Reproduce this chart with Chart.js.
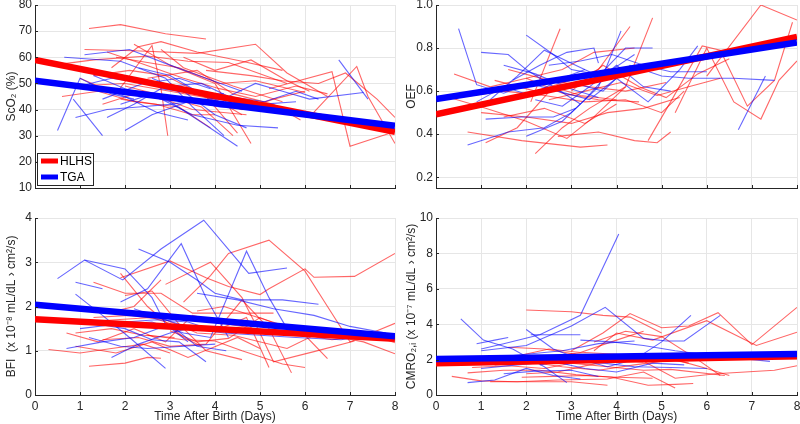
<!DOCTYPE html>
<html><head><meta charset="utf-8">
<script src="https://cdn.jsdelivr.net/npm/chart.js@4/dist/chart.umd.min.js"></script>
<style>
html,body{margin:0;padding:0;background:#fff;width:800px;height:424px;overflow:hidden}
.p{position:absolute;width:400px;height:212px}
canvas{display:block}
</style></head><body>
<div class="p" style="left:0;top:0"><canvas id="c1" width="400" height="212"></canvas></div>
<div class="p" style="left:400px;top:0"><canvas id="c2" width="400" height="212"></canvas></div>
<div class="p" style="left:0;top:212px"><canvas id="c3" width="400" height="212"></canvas></div>
<div class="p" style="left:400px;top:212px"><canvas id="c4" width="400" height="212"></canvas></div>
<script>
// ---------- DATA ----------
const dayTicks = [0,1,2,3,4,5,6,7,8];
const fitX = [0, 8];
const groups = ['HLHS', 'TGA'];

// ScO2 (%)
const scoTicks = [10,20,30,40,50,60,70,80];
const scoFitHLHS = [59.0, 31.5];
const scoFitTGA = [51.0, 33.8];
const scoHLHS = [
 [[1.2,71],[1.9,72.5],[2.9,69],[3.8,67]],
 [[1.1,63],[2.2,62.5],[3.6,61.5],[4.9,65],[5.6,54],[6.5,45]],
 [[1.7,56],[2.3,64],[2.8,66],[3.6,62],[4.6,58.5],[5.5,55]],
 [[0.4,57],[1.3,59],[2.5,60.5],[3.4,58.5],[4.3,58],[5.6,50]],
 [[2.2,65],[3.0,57],[4.0,50],[4.8,27]],
 [[1.0,52],[1.8,46],[2.6,64.5],[2.8,48],[2.95,30]],
 [[0.9,49],[2.0,50],[3.0,47],[4.0,44],[4.6,38]],
 [[1.5,42],[2.4,47],[3.5,40],[4.7,38]],
 [[1.8,60],[3.2,56],[4.1,50],[4.9,51],[6.0,46.5]],
 [[3.8,55],[4.8,53],[5.5,51],[6.3,50],[6.9,54],[7.6,44],[8,37]],
 [[5.2,48],[6.6,54.5],[7.0,26],[7.9,31]],
 [[6.2,39],[7.15,56.5],[7.4,45],[8,27]],
 [[2.5,52],[3.6,55],[4.4,46],[5.3,42],[5.9,36]],
 [[0.6,45],[1.4,47],[2.2,43],[3.2,41],[3.9,33]],
 [[1.3,53],[2.1,55],[2.9,53],[3.8,45],[4.5,31]],
 [[2.8,63],[3.3,56],[4.4,49],[5.5,43]],
 [[1.9,44],[2.7,42],[3.5,38],[4.0,38]],
 [[3.0,50],[3.9,44],[4.6,40],[5.3,44],[6.0,47]],
 [[1.6,62],[2.3,58],[3.3,52],[4.1,48],[4.9,45],[5.8,49],[6.5,46]],
 [[2.0,49],[2.9,45],[3.7,41],[4.4,30]],
 [[3.3,60],[4.0,55],[4.8,59],[5.6,51],[6.1,47]]
];
const scoTGA = [
 [[0.5,32],[1.0,52],[1.7,46],[2.2,44]],
 [[0.85,44],[1.5,30]],
 [[0.65,60],[1.9,58.5],[2.9,52],[3.5,41],[4.2,30]],
 [[1.1,61],[2.1,63],[3.0,57],[3.8,52],[4.6,47]],
 [[1.0,49],[1.7,52],[2.5,50],[3.3,48],[4.0,44],[4.9,43]],
 [[1.3,53],[2.0,48],[2.8,44],[3.5,38],[4.5,34],[5.4,33]],
 [[1.6,37],[2.2,42],[2.8,48],[3.6,46]],
 [[2.0,32],[2.6,38],[3.4,43],[4.3,45],[4.9,50],[5.5,47],[6.1,44],[7.3,46.5]],
 [[0.9,37],[1.6,40],[2.3,41],[3.0,42],[3.8,44]],
 [[2.3,56],[3.0,53],[3.7,46],[4.2,46]],
 [[1.5,44],[2.4,50],[3.2,52],[3.9,48]],
 [[2.6,52],[3.3,47],[4.0,38],[4.7,33]],
 [[2.2,47],[3.0,43],[3.8,34],[4.5,26]],
 [[3.6,46],[4.4,44],[5.0,42],[5.8,43]],
 [[6.75,59],[7.4,44]],
 [[1.2,50],[2.0,45],[2.7,39],[3.4,36]],
 [[1.9,42],[2.6,46],[3.3,44],[4.1,41],[4.8,40]],
 [[3.0,49],[3.7,50],[4.3,45],[5.1,43],[5.8,47],[6.3,44]]
];

// OEF
const oefTicks = [0.2,0.4,0.6,0.8,1];
const oefFitHLHS = [0.492, 0.852];
const oefFitTGA = [0.563, 0.826];
const oefHLHS = [
 [[0.7,0.41],[1.9,0.37],[3.2,0.34],[3.8,0.35]],
 [[2.2,0.31],[2.8,0.43],[3.4,0.52],[4.2,0.62],[4.8,0.94]],
 [[2.7,0.39],[3.6,0.41],[4.4,0.37],[4.9,0.36],[5.2,0.41]],
 [[1.1,0.36],[1.8,0.43],[2.6,0.62],[3.2,0.58],[4.0,0.56]],
 [[0.4,0.68],[1.2,0.62],[2.0,0.66],[2.8,0.7],[3.5,0.78],[4.4,0.8]],
 [[2.1,0.55],[2.75,0.89]],
 [[0.5,0.57],[1.5,0.6],[2.4,0.58],[3.3,0.55],[4.2,0.56],[5.0,0.5],[5.5,0.6]],
 [[1.0,0.5],[2.0,0.48],[3.0,0.45],[3.8,0.5],[4.6,0.52],[5.4,0.57]],
 [[1.3,0.65],[2.2,0.6],[3.0,0.65],[3.6,0.7],[4.3,0.9]],
 [[0.3,0.57],[1.1,0.52],[2.0,0.46],[2.9,0.38],[3.5,0.48],[4.2,0.62]],
 [[2.5,0.56],[3.3,0.6],[4.1,0.64],[4.9,0.58],[5.6,0.62],[6.3,0.66]],
 [[1.6,0.7],[2.5,0.65],[3.4,0.62],[4.2,0.6],[5.1,0.64]],
 [[3.0,0.6],[3.7,0.72],[4.5,0.62],[5.1,0.57],[5.8,0.68],[6.5,0.75]],
 [[1.5,0.48],[2.4,0.52],[3.3,0.45],[4.0,0.54]],
 [[2.0,0.66],[2.8,0.59],[3.6,0.56],[4.5,0.55]],
 [[5.3,0.5],[6.0,0.8],[6.6,0.55],[7.2,0.47],[7.6,0.65],[8.0,0.74]],
 [[6.0,0.67],[7.2,1.0],[8.0,0.93]],
 [[4.7,0.37],[5.2,0.55],[5.9,0.81],[6.3,0.79],[6.9,0.53],[7.5,0.65],[7.9,0.92]]
];
const oefTGA = [
 [[0.5,0.89],[0.9,0.63],[1.5,0.59],[2.0,0.63]],
 [[0.7,0.35],[1.6,0.41],[2.4,0.43],[3.0,0.5],[3.6,0.62],[4.1,0.88]],
 [[1.0,0.78],[1.6,0.77],[2.0,0.7],[2.6,0.62],[3.2,0.54]],
 [[2.0,0.86],[2.6,0.77],[3.0,0.7],[3.5,0.68]],
 [[1.2,0.56],[1.8,0.67],[2.4,0.79],[3.0,0.73],[3.6,0.67],[4.2,0.8],[4.8,0.8]],
 [[1.3,0.6],[2.0,0.64],[2.7,0.6],[3.4,0.56],[4.0,0.66],[4.7,0.55],[5.4,0.7],[5.8,0.81]],
 [[2.0,0.39],[2.8,0.46],[3.3,0.56],[3.9,0.7],[4.4,0.77]],
 [[1.1,0.47],[1.9,0.48],[2.6,0.48],[3.1,0.52]],
 [[2.5,0.72],[3.2,0.74],[3.9,0.77],[4.6,0.72],[5.2,0.69],[6.0,0.69]],
 [[3.0,0.64],[3.7,0.6],[4.3,0.72],[5.0,0.67],[5.6,0.66],[6.6,0.66],[7.5,0.65]],
 [[6.7,0.42],[7.3,0.67]],
 [[1.5,0.72],[2.2,0.68],[3.0,0.61],[3.6,0.57]],
 [[2.2,0.56],[2.8,0.53],[3.4,0.62],[4.0,0.72],[4.6,0.62],[5.2,0.6]],
 [[0.9,0.55],[1.5,0.62],[2.1,0.58],[2.8,0.66],[3.3,0.7]],
 [[1.7,0.65],[2.3,0.72],[2.9,0.78],[3.5,0.8],[3.6,0.73]]
];

// BFI (x 10^-8)
const bfiTicks = [0,1,2,3,4];
const bfiFitHLHS = [1.71, 1.27];
const bfiFitTGA = [2.04, 1.33];
const bfiHLHS = [
 [[0.3,1.03],[1.0,0.95],[1.7,1.05],[2.4,1.15],[3.0,0.95]],
 [[1.2,0.65],[2.0,0.72],[2.5,0.85],[2.8,0.83]],
 [[1.9,2.65],[3.0,3.03],[3.8,2.65],[4.3,2.45],[5.0,2.27],[5.2,2.4],[6.0,2.85],[6.2,2.66],[7.1,2.68],[8.0,3.2]],
 [[3.3,2.1],[3.9,2.7],[4.3,3.2],[5.2,3.5],[6.0,2.8],[6.5,2.0],[7.0,1.2],[8.0,1.62]],
 [[2.9,2.5],[3.9,3.0],[4.6,2.2],[5.0,1.4],[5.3,0.75],[6.2,0.98],[7.1,1.22]],
 [[1.3,2.55],[2.0,2.3],[2.8,2.3],[3.5,1.85],[4.3,1.85],[5.3,1.85]],
 [[1.9,2.75],[2.5,2.0],[3.3,1.3],[3.7,1.1]],
 [[0.7,1.4],[1.4,1.2],[2.2,1.5],[2.9,1.2],[3.5,1.8],[4.3,1.6],[4.9,1.5]],
 [[1.0,1.65],[1.8,1.7],[2.6,1.75],[3.2,1.55],[4.0,1.45],[4.7,1.75],[5.2,0.62]],
 [[1.5,1.25],[2.3,1.3],[3.0,1.1],[3.8,1.15],[4.6,2.15],[5.2,1.5],[5.7,0.5]],
 [[2.5,1.35],[3.3,1.25],[4.0,1.22],[4.6,1.0],[5.5,0.7],[6.0,0.62]],
 [[1.6,1.85],[2.2,2.0],[2.8,2.6]],
 [[0.9,1.1],[1.8,0.95],[2.6,1.2],[3.4,0.85],[3.9,1.05],[4.5,1.3],[5.0,1.05]],
 [[2.0,2.25],[2.6,2.35],[3.2,1.6],[3.8,1.0],[4.6,0.8]],
 [[3.6,1.9],[4.2,2.0],[4.8,1.8],[5.6,1.55],[6.3,1.3],[6.6,1.25],[7.5,1.35],[8.0,1.18]],
 [[3.0,1.45],[3.6,1.2],[4.3,1.28],[5.0,1.75],[6.0,1.35],[6.5,0.82]],
 [[1.3,1.75],[2.1,1.8],[2.9,1.7],[3.6,1.4],[4.4,1.35],[5.6,1.05],[6.3,1.4],[7.3,1.2],[8.0,0.93]],
 [[0.9,1.4],[1.7,1.5],[2.4,1.35],[3.1,1.3]]
];
const bfiTGA = [
 [[0.5,2.63],[1.1,3.05],[1.95,2.6],[2.8,3.3],[3.75,3.95],[4.75,2.75],[5.6,2.87]],
 [[1.1,3.05],[2.0,2.85],[2.6,2.2],[2.9,1.6],[3.4,1.2]],
 [[2.3,3.3],[3.0,3.0],[3.6,2.6],[4.0,2.3],[4.6,2.15],[5.5,2.15],[6.3,2.05]],
 [[1.9,2.1],[2.5,2.4],[3.25,3.42],[3.8,2.2],[4.3,1.3]],
 [[0.9,2.55],[1.5,2.4]],
 [[0.9,2.28],[1.5,1.8],[2.1,1.3],[2.9,0.6]],
 [[0.7,1.05],[1.5,1.2],[2.2,1.3],[3.0,1.6],[3.6,1.1],[4.25,1.0]],
 [[1.0,1.5],[1.8,1.6],[2.6,1.65],[3.3,1.4],[3.9,1.3],[4.7,3.25],[5.2,2.2],[5.6,1.5]],
 [[1.7,0.85],[2.3,1.15],[3.0,1.4],[3.6,1.55]],
 [[2.2,1.95],[2.9,1.7],[3.5,1.5],[4.2,1.4],[5.0,1.35],[5.8,1.3],[6.8,1.25],[7.5,1.35]],
 [[3.6,2.3],[4.5,2.15],[5.3,1.95],[6.2,1.8],[7.0,1.55],[7.8,1.4]],
 [[1.4,1.6],[2.0,1.5],[2.6,1.25],[3.2,1.2],[3.8,0.75]],
 [[1.2,1.3],[1.9,1.1],[2.5,1.05],[3.3,1.1],[4.0,1.15]],
 [[2.0,1.65],[2.7,1.7],[3.4,1.65],[4.0,1.45]]
];

// CMRO2,i (x 10^-7)
const cmroTicks = [0,2,4,6,8,10];
const cmroFitHLHS = [1.79, 2.19];
const cmroFitTGA = [2.04, 2.32];
const cmroHLHS = [
 [[2.0,4.8],[3.0,4.7],[3.7,4.5],[4.3,4.4],[5.0,3.5]],
 [[3.0,2.5],[3.7,3.5],[4.3,4.6],[5.0,3.8],[5.6,3.9],[6.25,4.65],[7.0,2.85],[8.0,4.95]],
 [[3.5,2.5],[4.0,3.5],[4.8,3.1],[6.0,4.2],[7.1,2.8],[8.0,3.55]],
 [[0.35,1.05],[1.0,0.8],[1.8,0.75],[2.7,0.85],[3.8,0.9],[4.6,1.3],[5.3,0.4]],
 [[1.2,0.75],[2.0,0.75],[3.0,0.75],[3.8,0.55]],
 [[2.5,2.2],[3.3,2.4],[4.0,2.3],[4.6,1.9],[5.3,0.95],[6.2,1.2],[7.5,1.4],[8.0,1.65]],
 [[0.7,1.25],[1.5,1.4],[2.3,1.4],[3.1,1.15],[3.9,1.0],[4.7,0.55],[5.3,0.6],[5.7,0.65]],
 [[1.0,2.0],[1.8,2.2],[2.5,2.6],[3.2,2.4],[4.0,3.1],[4.6,3.6]],
 [[1.3,1.7],[2.1,1.85],[2.8,1.6],[3.6,1.4],[4.4,1.7],[5.3,2.0],[6.0,1.5],[6.5,1.1]],
 [[1.6,2.7],[2.4,2.6],[3.1,2.3],[3.8,2.05],[4.6,1.85]],
 [[2.0,1.2],[2.7,1.3],[3.4,1.7],[4.1,2.0],[4.8,2.2],[5.6,1.8]],
 [[0.8,1.55],[1.6,1.65],[2.4,1.5],[3.0,1.8],[3.8,1.6],[4.6,1.4],[5.2,1.45],[6.4,1.1]],
 [[3.5,3.0],[4.2,3.6],[5.0,3.3],[5.8,2.0],[6.3,1.1]],
 [[1.9,1.0],[2.6,1.05],[3.3,1.1],[4.0,1.0],[4.8,0.95]]
];
const cmroTGA = [
 [[0.55,4.3],[1.05,3.1],[1.7,2.6],[2.4,1.6],[2.9,0.7]],
 [[0.9,2.9],[1.3,3.1],[1.6,3.25]],
 [[1.0,2.6],[1.5,2.9],[2.3,3.4],[3.2,4.5],[4.05,9.1]],
 [[1.0,2.5],[2.0,2.8],[3.0,3.9],[3.75,4.95],[4.6,3.2],[5.1,3.05],[5.5,3.05],[6.3,4.5]],
 [[2.0,3.7],[2.6,2.6],[3.2,2.0],[3.8,1.6],[4.4,2.0],[5.0,3.0],[5.65,4.5]],
 [[2.1,3.4],[2.7,3.4],[3.2,3.4]],
 [[0.7,0.7],[1.3,0.85],[2.0,1.5],[2.6,1.1],[3.2,0.9]],
 [[1.0,1.5],[1.8,1.7],[2.6,1.9],[3.3,1.5],[4.0,1.3],[4.8,1.8],[5.5,1.7]],
 [[3.2,3.1],[3.9,3.0],[4.6,2.8],[5.3,2.5],[6.2,2.2],[7.4,1.9]],
 [[1.5,1.2],[2.2,1.35],[3.0,1.4],[3.6,1.05]],
 [[2.3,1.7],[3.0,2.05],[3.7,1.8],[4.4,1.6],[5.2,1.55],[6.0,1.5]],
 [[1.2,2.1],[2.0,2.3],[2.8,2.5],[3.6,2.9],[4.4,3.05]]
];

// ---------- CHART BUILDING ----------
const RED = 'rgb(255,0,0)', BLUE = 'rgb(0,0,255)';
const THIN_RED = 'rgba(255,0,0,0.6)', THIN_BLUE = 'rgba(0,0,255,0.6)';
const AX = '#262626', GRID = '#e6e6e6';
const FONT = {family:'"Liberation Sans", Arial, Helvetica, sans-serif', size:12};
Chart.defaults.font.family = FONT.family;
Chart.defaults.color = AX;

function pts(arr){ return arr.map(p => ({x:p[0], y:p[1]})); }
function fitPts(ys){ return fitX.map((x,i) => ({x:x, y:ys[i]})); }

function buildDatasets(hlhs, tga, fitH, fitT){
  const ds = [];
  ds.push({label:groups[1], data:fitPts(fitT), borderColor:BLUE, borderWidth:6.5});
  ds.push({label:groups[0], data:fitPts(fitH), borderColor:RED, borderWidth:6.5});
  tga.forEach(s => ds.push({label:'', data:pts(s), borderColor:THIN_BLUE, borderWidth:1.1}));
  hlhs.forEach(s => ds.push({label:'', data:pts(s), borderColor:THIN_RED, borderWidth:1.1}));
  ds.forEach(d => { d.showLine = true; d.pointRadius = 0; d.pointHoverRadius = 0; d.tension = 0; d.fill = false; d.borderCapStyle = 'butt'; });
  return ds;
}

// inward tick marks (MATLAB style) drawn along the axes
const inTicks = {
  id:'inTicks',
  afterDraw(chart){
    const ctx = chart.ctx, a = chart.chartArea, sx = chart.scales.x, sy = chart.scales.y;
    ctx.save();
    ctx.strokeStyle = AX; ctx.lineWidth = 1;
    ctx.beginPath();
    sx.ticks.forEach(t => { const x = Math.round(sx.getPixelForValue(t.value)) + 0.5; ctx.moveTo(x, a.bottom); ctx.lineTo(x, a.bottom - 3); });
    sy.ticks.forEach(t => { const y = Math.round(sy.getPixelForValue(t.value)) + 0.5; ctx.moveTo(a.left, y); ctx.lineTo(a.left + 3, y); });
    ctx.stroke();
    ctx.restore();
  }
};

const legendPlugin = {
  id:'boxLegend',
  afterDraw(chart, args, opts){
    if(!opts || !opts.show) return;
    const ctx = chart.ctx;
    const x = 37, y = 153, w = 56, h = 32;
    ctx.save();
    ctx.fillStyle = '#fff';
    ctx.fillRect(x, y, w, h);
    ctx.strokeStyle = AX; ctx.lineWidth = 1;
    ctx.strokeRect(x+0.5, y+0.5, w, h);
    const items = [[groups[0], RED, 161], [groups[1], BLUE, 177]];
    ctx.font = '12px ' + FONT.family;
    ctx.textBaseline = 'middle';
    items.forEach(it => {
      ctx.strokeStyle = it[1]; ctx.lineWidth = 5; ctx.lineCap = 'butt';
      ctx.beginPath(); ctx.moveTo(41, it[2]); ctx.lineTo(58, it[2]); ctx.stroke();
      ctx.fillStyle = '#000';
      ctx.fillText(it[0], 60, it[2] + 1);
    });
    ctx.restore();
  }
};

function makeChart(id, opt){
  const bottomRow = opt.bottom;
  return new Chart(document.getElementById(id), {
    type:'scatter',
    data:{datasets: buildDatasets(opt.hlhs, opt.tga, opt.fitH, opt.fitT)},
    plugins:[inTicks, legendPlugin],
    options:{
      responsive:false, animation:false, devicePixelRatio:1,
      events:[],
      layout:{padding:{left:0, right:opt.padRight, top:opt.padTop, bottom:0}},
      plugins:{legend:{display:false}, tooltip:{enabled:false}, boxLegend:{show:!!opt.legend}},
      scales:{
        x:{
          type:'linear', min:0, max:8,
          afterBuildTicks: s => { s.ticks = dayTicks.map(v => ({value:v})); },
          ticks:{display:bottomRow, color:AX, font:FONT, padding:4, maxRotation:0, autoSkip:false},
          grid:{color:GRID, drawTicks:false, lineWidth:1},
          border:{color:AX, width:1},
          title:{display:bottomRow, text:'Time After Birth (Days)', color:AX, font:FONT, padding:{top:0, bottom:0}},
          afterFit: s => { s.height = opt.xH; s.paddingLeft = 0; s.paddingRight = 0; }
        },
        y:{
          type:'linear', min:opt.yMin, max:opt.yMax,
          afterBuildTicks: s => { s.ticks = opt.yTicks.map(v => ({value:v})); },
          ticks:{color:AX, font:FONT, padding:3},
          grid:{color:GRID, drawTicks:false, lineWidth:1},
          border:{color:AX, width:1},
          title:{display:true, text:opt.yTitle, color:AX, font:FONT, padding:{top:4, bottom:2}},
          afterFit: s => { s.width = opt.yW; s.paddingTop = 0; s.paddingBottom = 0; }
        }
      }
    }
  });
}

makeChart('c1', {hlhs:scoHLHS, tga:scoTGA, fitH:scoFitHLHS, fitT:scoFitTGA, yMin:10, yMax:80, yTicks:scoTicks,
  yTitle:'ScO\u2082 (%)', bottom:false, xH:24, yW:35, padRight:5, padTop:5, legend:true});
makeChart('c2', {hlhs:oefHLHS, tga:oefTGA, fitH:oefFitHLHS, fitT:oefFitTGA, yMin:0.15, yMax:1, yTicks:oefTicks,
  yTitle:'OEF', bottom:false, xH:24, yW:36, padRight:3, padTop:5});
makeChart('c3', {hlhs:bfiHLHS, tga:bfiTGA, fitH:bfiFitHLHS, fitT:bfiFitTGA, yMin:0, yMax:4, yTicks:bfiTicks,
  yTitle:'BFI  (x 10\u207B\u2078 mL/dL \u203A cm\u00B2/s)', bottom:true, xH:29, yW:35, padRight:5, padTop:6});
makeChart('c4', {hlhs:cmroHLHS, tga:cmroTGA, fitH:cmroFitHLHS, fitT:cmroFitTGA, yMin:0, yMax:10, yTicks:cmroTicks,
  yTitle:'CMRO\u2082,\u1D62 (x 10\u207B\u2077 mL/dL \u203A cm\u00B2/s)', bottom:true, xH:29, yW:36, padRight:3, padTop:6});
</script>
</body></html>
